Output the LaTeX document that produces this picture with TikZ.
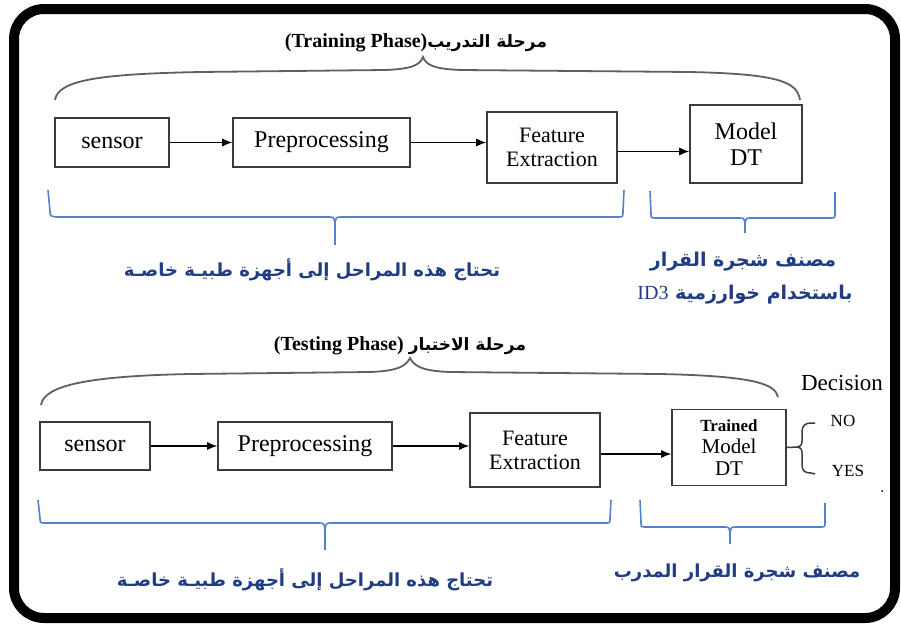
\documentclass[tikz,border=0pt]{standalone}
\usepackage{fontspec}
\setmainfont{Liberation Serif}
\newfontfamily\arabicfont[Script=Arabic]{DejaVu Sans}
\TeXXeTstate=1
\usetikzlibrary{arrows.meta}
\definecolor{arblue}{RGB}{32,60,130}
\definecolor{brblue}{RGB}{84,130,200}
\definecolor{brgray}{RGB}{95,95,95}
\definecolor{boxline}{RGB}{60,60,60}
\begin{document}
\begin{tikzpicture}[x=1pt,y=-1pt,
  stagebox/.style={draw=boxline,line width=1.6pt,fill=white,align=center,inner sep=0pt,
    font=\fontsize{24}{26}\selectfont},
  flow/.style={-{Latex[length=10pt,width=8pt]},line width=1.2pt,black},
  topbrace/.style={draw=brgray,line width=1.8pt},
  lowbrace/.style={draw=brblue,line width=1.6pt},
  artext/.style={text=arblue,font=\fontsize{18}{26}\selectfont\arabicfont\bfseries,align=center},
  titletext/.style={font=\fontsize{20}{22}\selectfont\bfseries},
  outtext/.style={font=\fontsize{17}{19}\selectfont}]
\useasboundingbox (0,0) rectangle (901,624);

% outer frame
\draw[line width=10pt,rounded corners=30pt] (14,9) rectangle (895,618);

% ---------------- training phase ----------------
\node[titletext] (ttrain) at (416,43) {(Training Phase){\arabicfont\fontsize{17}{22}\selectfont\beginR مرحلة التدريب\endR}};
\draw[topbrace] (55,100) .. controls (58,80) and (100,74) .. (200,72) -- (385,70)
  .. controls (412,69) and (420,65) .. (423,57)
  .. controls (426,65) and (434,69) .. (461,70) -- (690,72)
  .. controls (780,74) and (797,82) .. (800,100);

\node[stagebox,minimum width=114pt,minimum height=49pt] (s1) at (112,142.5) {sensor};
\node[stagebox,minimum width=177pt,minimum height=49pt] (p1) at (321.5,142.5) {Preprocessing};
\node[stagebox,minimum width=130pt,minimum height=71pt,font=\fontsize{22}{24}\selectfont] (f1) at (552,147.5) {Feature\\Extraction};
\node[stagebox,minimum width=112pt,minimum height=78pt] (m1) at (746,144) {Model\\DT};
\draw[flow] (s1.east) -- (p1.west);
\draw[flow] (p1.east) -- (p1.east -| f1.west);
\draw[flow] ([yshift=-4pt]f1.east) -- ([yshift=-4pt]f1.east -| m1.west);

\draw[lowbrace] (48,190) -- (50,211) .. controls (50,216) .. (56,217) -- (329,217)
  .. controls (334,217) .. (335,224) -- (335,245);
\draw[lowbrace] (335,224) .. controls (336,217) .. (341,217) -- (618,217)
  .. controls (623,217) .. (623,211) -- (624,190);
\draw[lowbrace] (650,191) -- (651,213) .. controls (651,218) .. (656,218) -- (739,218)
  .. controls (744,218) .. (745,224) -- (745,233);
\draw[lowbrace] (745,224) .. controls (746,218) .. (751,218) -- (830,218)
  .. controls (835,218) .. (835,213) -- (835,192);

\node[artext] (need1) at (312,270) {\beginR تحتاج هذه المراحل إلى أجهزة طبيـة خاصـة\endR};
\node[artext,font=\fontsize{19}{26}\selectfont\arabicfont\bfseries] (cls1a) at (743,262) {\beginR مصنف شجرة القرار\endR};
\node[artext,font=\fontsize{19}{26}\selectfont\arabicfont\bfseries] (cls1b) at (745,295) {{\normalfont\fontsize{20}{22}\selectfont ID3} \beginR باستخدام خوارزمية\endR};

% ---------------- testing phase ----------------
\node[titletext] (ttest) at (400,346) {(Testing Phase) {\arabicfont\fontsize{17}{22}\selectfont\beginR مرحلة الاختبار\endR}};
\draw[topbrace] (41,405) .. controls (44,385) and (90,376) .. (190,374) -- (370,372)
  .. controls (398,371) and (406,366) .. (410,358)
  .. controls (414,366) and (422,371) .. (450,372) -- (660,374)
  .. controls (755,376) and (775,384) .. (778,397);

\node[stagebox,minimum width=110pt,minimum height=48pt] (s2) at (95,446) {sensor};
\node[stagebox,minimum width=174pt,minimum height=48pt] (p2) at (305,446) {Preprocessing};
\node[stagebox,minimum width=130pt,minimum height=74pt,font=\fontsize{22}{24}\selectfont] (f2) at (535,450) {Feature\\Extraction};
\node[stagebox,minimum width=114pt,minimum height=76pt,font=\fontsize{21}{22}\selectfont] (m2) at (729,447.5)
  {{\bfseries\fontsize{17}{21}\selectfont Trained}\\Model\\DT};
\draw[flow] (s2.east) -- (p2.west);
\draw[flow] (p2.east) -- (p2.east -| f2.west);
\draw[flow] ([yshift=-4pt]f2.east) -- ([yshift=-4pt]f2.east -| m2.west);

% decision output
\node[font=\fontsize{23}{25}\selectfont] (dec) at (842,383) {Decision};
\node[outtext] (no) at (843,421) {NO};
\node[outtext] (yes) at (848,471) {YES};
\coordinate (fork) at (798,447);
\coordinate (notip) at (815,423);
\coordinate (yestip) at (815,474);
\draw[draw=boxline,line width=1.5pt] (m2.east) -- (fork);
\draw[draw=boxline,line width=1.5pt] (notip) -- ++(-4,0) .. controls ++(-6,0) and ++(0,-6) .. ++(-9,9)
  -- ++(0,9) .. controls ++(0,4) and ++(2,0) .. (fork)
  .. controls ++(2,0) and ++(0,-4) .. ++(4,6) -- ++(0,12)
  .. controls ++(0,6) and ++(-6,0) .. ++(9,8) -- (yestip);
\fill (882,491) circle (1pt);

\draw[lowbrace] (38,500) -- (40,518) .. controls (40,523) .. (46,523) -- (319,523)
  .. controls (324,523) .. (325,530) -- (325,550);
\draw[lowbrace] (325,530) .. controls (326,523) .. (331,523) -- (605,523)
  .. controls (610,523) .. (610,518) -- (611,500);
\draw[lowbrace] (640,500) -- (641,522) .. controls (641,527) .. (646,527) -- (724,527)
  .. controls (729,527) .. (730,533) -- (730,544);
\draw[lowbrace] (730,533) .. controls (731,527) .. (736,527) -- (820,527)
  .. controls (825,527) .. (825,522) -- (825,503);

\node[artext] (need2) at (305,580) {\beginR تحتاج هذه المراحل إلى أجهزة طبيـة خاصـة\endR};
\node[artext] (cls2) at (737,573) {\beginR مصنف شجرة القرار المدرب\endR};
\end{tikzpicture}
\end{document}
